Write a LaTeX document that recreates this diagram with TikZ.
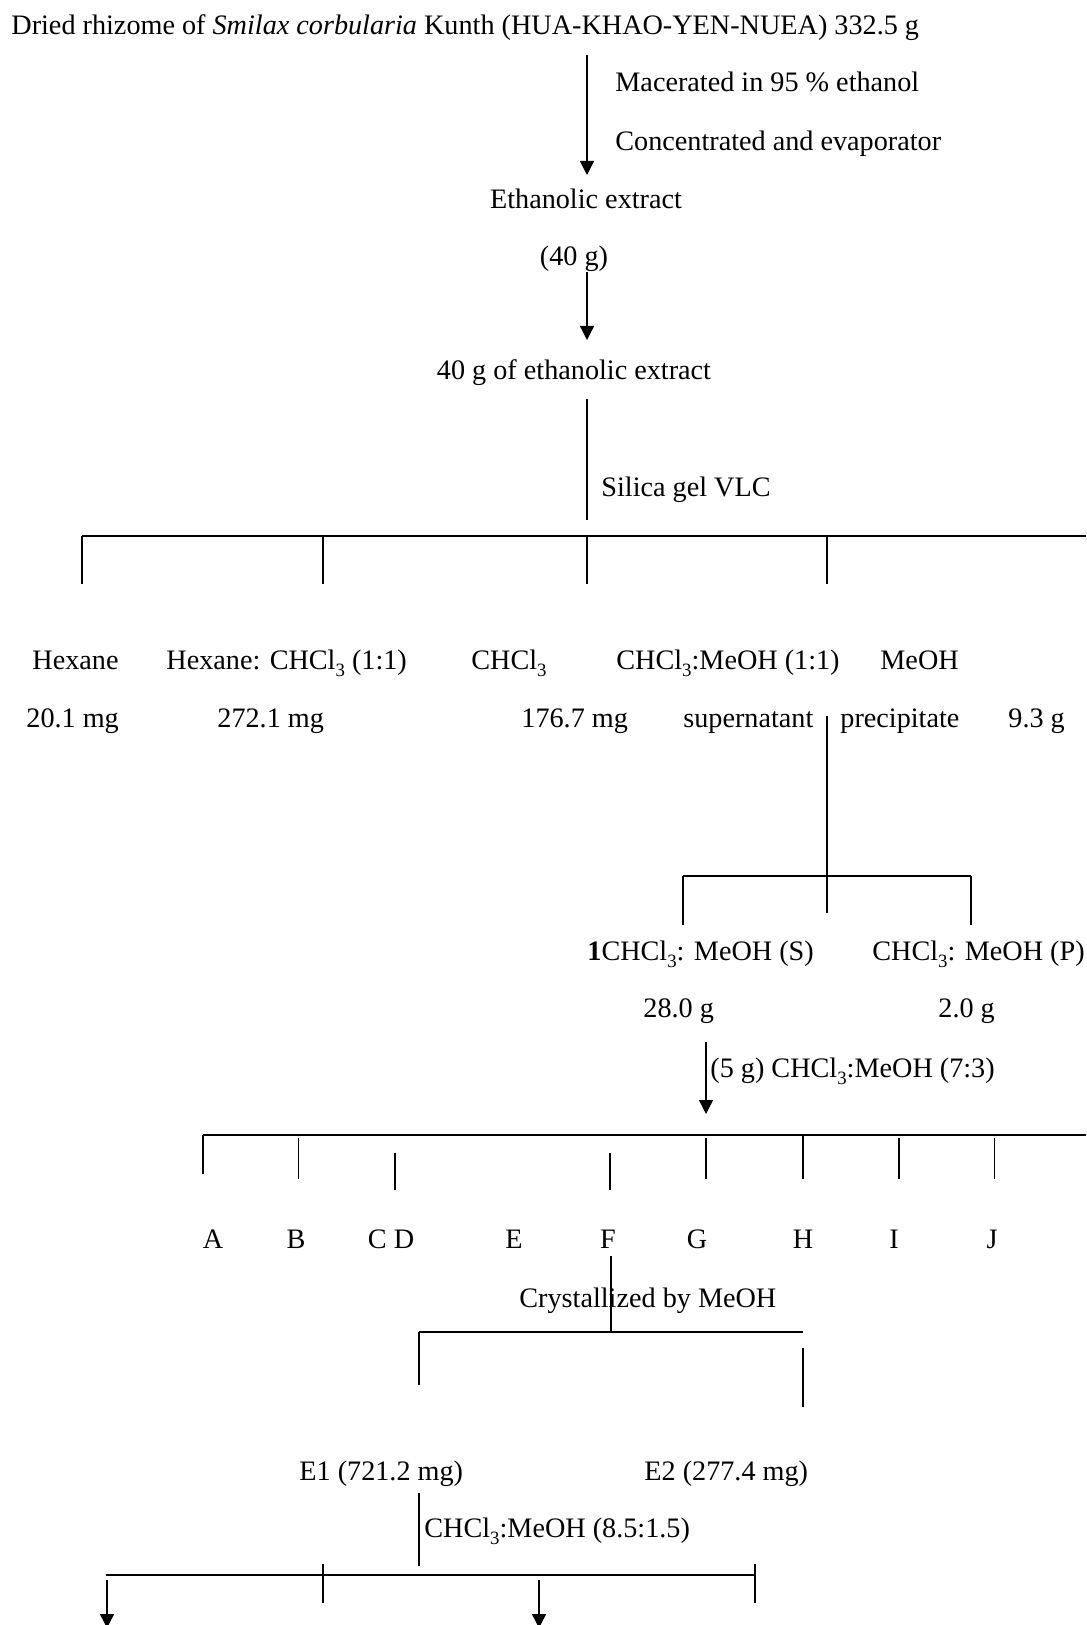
\documentclass[tikz,border=0pt]{standalone}
\usepackage{fontspec}
\setmainfont{Liberation Serif}
\usetikzlibrary{arrows.meta}
\newcommand{\mysub}[1]{\raisebox{-3.6pt}{\fontsize{9.4}{10}\selectfont #1}}
\begin{document}
\begin{tikzpicture}[x=0.5pt,y=-0.5pt,
  txt/.style={inner sep=0pt, font=\fontsize{14.1}{17}\selectfont},
  lt/.style={txt, anchor=base west},
  ct/.style={txt, anchor=base},
  vl/.style={line width=0.65pt},
  hl/.style={line width=0.9pt},
  arr/.style={line width=0.65pt, -{Triangle[width=7pt,length=7pt]}}]
\useasboundingbox (0,0) rectangle (1086,1625);
\clip (0,0) rectangle (1086,1625);
\fill[white] (0,0) rectangle (1086,1625);

% ---- top part ----
\node[lt] (title) at (11,35) {Dried rhizome of \textit{Smilax corbularia} Kunth (HUA-KHAO-YEN-NUEA) 332.5 g};
\node[lt] (mac) at (615,92) {Macerated in 95 \% ethanol};
\node[lt] (conc) at (615,151) {Concentrated and evaporator};
\node[ct] (eth) at (586,209) {Ethanolic extract};
\node[ct] (forty) at (574,266) {(40 g)};
\node[ct] (eth40) at (574,380) {40 g of ethanolic extract};
\node[lt] (vlc) at (601,497) {Silica gel VLC};

\coordinate (a1s) at (587,55);  \coordinate (a1e) at (587,175);
\coordinate (a2s) at (587,272); \coordinate (a2e) at (587,340);
\coordinate (v1s) at (587,399); \coordinate (v1e) at (587,520);
\draw[arr] (a1s) -- (a1e);
\draw[arr] (a2s) -- (a2e);
\draw[vl] (v1s) -- (v1e);

% ---- VLC fractions ----
\coordinate (h1l) at (82,536); \coordinate (h1r) at (1086,536);
\draw[hl] (h1l) -- (h1r);
\foreach \n/\x in {d1/82, d2/323, d3/587, d4/827}{
  \coordinate (\n t) at (\x,536); \coordinate (\n b) at (\x,584);
  \draw[vl] (\n t) -- (\n b);
}

\node[lt] (hex) at (32,669) {Hexane};
\node[lt] (hexc) at (166,669) {Hexane: CHCl\mysub{3} (1:1)};
\node[lt] (chcl) at (471,669) {CHCl\mysub{3}};
\node[lt] (chm) at (616,669) {CHCl\mysub{3}:MeOH (1:1)};
\node[lt] (meoh) at (880,669) {MeOH};

\node[lt] (m1) at (26,727) {20.1 mg};
\node[lt] (m2) at (217,727) {272.1 mg};
\node[lt] (m3) at (521,727) {176.7 mg};
\node[lt] (sup) at (683,727) {supernatant};
\node[lt] (pre) at (840,727) {precipitate};
\node[lt] (m5) at (1008,727) {9.3 g};

\coordinate (v2s) at (827,716); \coordinate (v2e) at (827,913);
\draw[vl] (v2s) -- (v2e);
\coordinate (h2l) at (683,876); \coordinate (h2r) at (971,876);
\draw[hl] (h2l) -- (h2r);
\coordinate (h2lb) at (683,925); \coordinate (h2rb) at (971,925);
\draw[vl] (h2l) -- (h2lb);
\draw[vl] (h2r) -- (h2rb);

\node[lt] (S) at (587,960) {\textbf{1}CHCl\mysub{3}: MeOH (S)};
\node[lt] (P) at (872,960) {CHCl\mysub{3}: MeOH (P)};
\node[lt] (Sg) at (643,1017) {28.0 g};
\node[lt] (Pg) at (938,1017) {2.0 g};

\coordinate (a3s) at (706,1042); \coordinate (a3e) at (706,1114);
\draw[arr] (a3s) -- (a3e);
\node[lt] (cc) at (710,1077) {(5 g) CHCl\mysub{3}:MeOH (7:3)};

% ---- column fractions ----
\coordinate (h3l) at (203,1135); \coordinate (h3r) at (1086,1135);
\draw[hl] (h3l) -- (h3r);
\foreach \n/\x/\ya/\yb in {fA/203/1135/1174, fB/298.5/1138/1179, fCD/395/1153/1190,
  fF/610/1153/1190, fG/706/1138/1179, fH/803/1135/1179, fI/899/1138/1179, fJ/994.5/1138/1179}{
  \coordinate (\n t) at (\x,\ya); \coordinate (\n b) at (\x,\yb);
  \draw[vl] (\n t) -- (\n b);
}
\node[ct] (A) at (213,1248) {A};
\node[ct] (B) at (296,1248) {B};
\node[ct] (CD) at (391,1248) {C D};
\node[ct] (E) at (514,1248) {E};
\node[ct] (F) at (608,1248) {F};
\node[ct] (G) at (697,1248) {G};
\node[ct] (H) at (803,1248) {H};
\node[ct] (I) at (894,1248) {I};
\node[ct] (J) at (992,1248) {J};

\coordinate (vFs) at (611,1256); \coordinate (vFe) at (611,1333);
\draw[vl] (vFs) -- (vFe);
\node[lt] (cry) at (519,1307) {Crystallized by MeOH};

\coordinate (h4l) at (419,1332); \coordinate (h4r) at (803,1332);
\draw[hl] (h4l) -- (h4r);
\coordinate (h4lb) at (419,1385);
\draw[vl] (h4l) -- (h4lb);
\coordinate (h4rt) at (803,1348); \coordinate (h4rb) at (803,1407);
\draw[vl] (h4rt) -- (h4rb);

\node[lt] (E1) at (299,1480) {E1 (721.2 mg)};
\node[lt] (E2) at (644,1480) {E2 (277.4 mg)};

\coordinate (vEs) at (419,1493); \coordinate (vEe) at (419,1566);
\draw[vl] (vEs) -- (vEe);
\node[lt] (cc2) at (424,1537) {CHCl\mysub{3}:MeOH (8.5:1.5)};

\coordinate (h5l) at (106,1575); \coordinate (h5r) at (755,1575);
\draw[hl] (h5l) -- (h5r);
\coordinate (t1t) at (323,1564); \coordinate (t1b) at (323,1603);
\coordinate (t2t) at (755,1564); \coordinate (t2b) at (755,1603);
\draw[vl] (t1t) -- (t1b);
\draw[vl] (t2t) -- (t2b);
\coordinate (b1s) at (107,1580); \coordinate (b1e) at (107,1628);
\coordinate (b2s) at (539,1580); \coordinate (b2e) at (539,1628);
\draw[arr] (b1s) -- (b1e);
\draw[arr] (b2s) -- (b2e);
\end{tikzpicture}
\end{document}
